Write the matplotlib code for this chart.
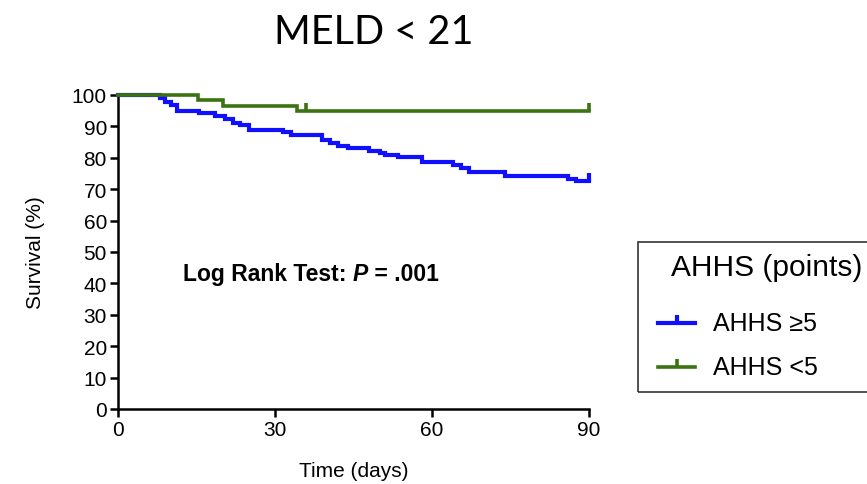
import matplotlib
matplotlib.use("Agg")
import matplotlib.pyplot as plt
import matplotlib.markers as mmarkers
from matplotlib.patches import Rectangle
from matplotlib.lines import Line2D
import numpy as np

# Kaplan-Meier estimates (days, survival %)
high_days = [0, 8.0, 9.0, 10.2, 11.3, 15.5, 18.5, 20.5, 22.0, 23.3, 25.0, 31.5, 33.0,
             39.0, 40.5, 42.0, 44.0, 48.0, 50.0, 51.0, 53.5, 58.0, 64.0, 65.5, 67.0,
             74.0, 86.0, 87.5]
high_surv = [100, 98.9, 97.8, 96.7, 95.0, 94.2, 93.3, 92.2, 91.1, 90.3, 89.0, 88.3, 87.2,
             85.6, 84.6, 83.8, 83.0, 82.2, 81.6, 81.0, 80.3, 78.6, 77.8, 76.6, 75.4,
             74.2, 73.3, 72.5]
high_censor_days = [90]

low_days = [0, 15.2, 20.0, 34.2]
low_surv = [100, 98.3, 96.6, 94.9]
low_censor_days = [36, 90]

x_ticks = [0, 30, 60, 90]
y_ticks = list(range(0, 101, 10))

group_labels = ["AHHS \u22655", "AHHS <5"]
legend_title = "AHHS (points)"

BLUE = "#1010FF"
GREEN = "#3B7310"
FONT = ["Liberation Sans", "DejaVu Sans"]

plt.rcParams["font.family"] = FONT

W, H = 867, 485
fig = plt.figure(figsize=(W / 100, H / 100), dpi=100)
ax = fig.add_axes([118 / W, 1 - 410 / H, (589 - 118) / W, (410 - 96) / H])


def fx(px):
    return px / W


def fy(py):
    return 1 - py / H


def km_curve(days, surv, end=90):
    return list(days) + [end], list(surv) + [surv[-1]]


def censor_levels(days, surv, cdays):
    return [surv[np.searchsorted(days, d, side="right") - 1] for d in cdays]


series = [
    (high_days, high_surv, high_censor_days, BLUE, 3.0),
    (low_days, low_surv, low_censor_days, GREEN, 2.6),
]

for days, surv, cdays, color, lw in series:
    xs, ys = km_curve(days, surv)
    ax.step(xs, ys, where="post", color=color, lw=lw, clip_on=False,
            solid_joinstyle="miter", zorder=3)
    ax.plot(cdays, censor_levels(days, surv, cdays), ls="none",
            marker=mmarkers.TICKUP, ms=6, mew=lw, color=color, clip_on=False, zorder=3)

ax.set_xlim(0, 90)
ax.set_ylim(0, 100)
ax.set_xticks(x_ticks)
ax.set_yticks(y_ticks)
ax.tick_params(axis="both", labelsize=15, width=1.8, length=6, pad=2, color="black")
for side in ["top", "right"]:
    ax.spines[side].set_visible(False)
for side in ["left", "bottom"]:
    ax.spines[side].set_linewidth(1.8)

ax.set_xlabel("Time (days)", fontsize=15, labelpad=16)
ax.set_ylabel("Survival (%)", fontsize=15, labelpad=19)

# Log-rank annotation, with the P in bold italic
t1 = ax.text(12.4, 43, "Log Rank Test: ", fontsize=16.5, fontweight="bold",
             va="center", ha="left")
t2 = ax.annotate("P", xy=(1, 0), xycoords=t1, fontsize=16.5, fontweight="bold",
                 fontstyle="italic", va="bottom", ha="left")
ax.annotate(" = .001", xy=(1, 0), xycoords=t2, fontsize=16.5, fontweight="bold",
            va="bottom", ha="left")

fig.text(fx(374), fy(32), "MELD < 21", fontsize=28.5, ha="center", va="center",
         family=["Lato", "DejaVu Sans"])

# Legend box, running off the right edge of the figure
fig.patches.append(Rectangle((fx(638), fy(393)), fx(900) - fx(638), fy(243) - fy(393),
                             transform=fig.transFigure, fill=False, edgecolor="#333333",
                             lw=1.2, clip_on=False))
fig.text(fx(767), fy(268), legend_title, fontsize=21.5, ha="center", va="center")
for (days, surv, cdays, color, lw), label, ly in zip(series, group_labels, [324, 368]):
    fig.lines.append(Line2D([fx(658), fx(676.5), fx(695)], [fy(ly)] * 3, color=color, lw=lw,
                            marker=mmarkers.TICKUP, ms=6, mew=lw, markevery=[1],
                            transform=fig.transFigure))
    fig.text(fx(713), fy(ly), label, fontsize=18, ha="left", va="center")

fig.savefig("out.png", dpi=100)
